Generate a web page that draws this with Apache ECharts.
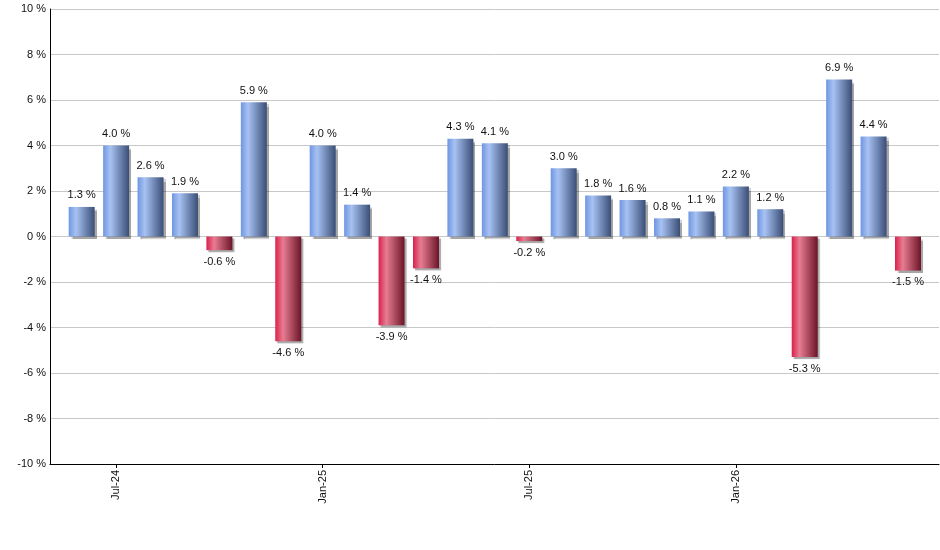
<!DOCTYPE html>
<html>
<head>
<meta charset="utf-8">
<script src="https://cdn.jsdelivr.net/npm/echarts@6/dist/echarts.min.js"></script>
<style>
  html, body { margin: 0; padding: 0; background: #fff; }
  #chart { width: 940px; height: 550px; }
</style>
</head>
<body>
<div id="chart"></div>
<script>
// monthly returns, Jun-24 .. Jun-26
const months = [
  'Jun-24', 'Jul-24', 'Aug-24', 'Sep-24', 'Oct-24', 'Nov-24', 'Dec-24',
  'Jan-25', 'Feb-25', 'Mar-25', 'Apr-25', 'May-25', 'Jun-25',
  'Jul-25', 'Aug-25', 'Sep-25', 'Oct-25', 'Nov-25', 'Dec-25',
  'Jan-26', 'Feb-26', 'Mar-26', 'Apr-26', 'May-26', 'Jun-26'
]
const values = [
  1.3, 4.0, 2.6, 1.9, -0.6, 5.9, -4.6,
  4.0, 1.4, -3.9, -1.4, 4.3, 4.1,
  -0.2, 3.0, 1.8, 1.6, 0.8, 1.1,
  2.2, 1.2, -5.3, 6.9, 4.4, -1.5
]
const labelMonths = ['Jul-24', 'Jan-25', 'Jul-25', 'Jan-26']
const yTicks = [-10, -8, -6, -4, -2, 0, 2, 4, 6, 8, 10]

const tickIdx = labelMonths.map(m => months.indexOf(m))

const blueFill = new echarts.graphic.LinearGradient(0, 0, 1, 0, [
  { offset: 0, color: '#6f96e2' },
  { offset: 0.28, color: '#a7c2f3' },
  { offset: 1, color: '#3a4e76' }
])
const redFill = new echarts.graphic.LinearGradient(0, 0, 1, 0, [
  { offset: 0, color: '#d9214b' },
  { offset: 0.3, color: '#e77d92' },
  { offset: 1, color: '#6c1428' }
])

const barData = values.map((v, i) => ({
  value: [i, v],
  itemStyle: { color: v >= 0 ? blueFill : redFill },
  label: { position: v >= 0 ? 'top' : 'bottom' }
}))

const chart = echarts.init(document.getElementById('chart'))
chart.setOption({
  animation: false,
  grid: { left: 50, right: 1, top: 9, bottom: 86 },
  xAxis: {
    type: 'value',
    min: -0.92,
    max: 24.9,
    splitLine: { show: false },
    axisLine: { show: true, onZero: false, lineStyle: { color: '#000', width: 1 } },
    axisTick: { show: true, customValues: tickIdx, length: 4, lineStyle: { color: '#000' } },
    axisLabel: {
      customValues: tickIdx,
      rotate: 90,
      color: '#111',
      fontSize: 11,
      fontFamily: 'Liberation Sans, Arial, sans-serif',
      margin: 6,
      formatter: v => months[Math.round(v)]
    }
  },
  yAxis: {
    type: 'value',
    min: yTicks[0],
    max: yTicks[yTicks.length - 1],
    interval: 2,
    axisLine: { show: true, onZero: false, lineStyle: { color: '#000', width: 1 } },
    axisTick: { show: false },
    splitLine: { lineStyle: { color: '#c8c8c8', width: 1 } },
    axisLabel: {
      color: '#111',
      fontSize: 11,
      fontFamily: 'Liberation Sans, Arial, sans-serif',
      margin: 4,
      formatter: v => v + ' %'
    }
  },
  series: [{
    type: 'bar',
    barWidth: 26,
    data: barData,
    itemStyle: {
      shadowColor: 'rgba(0,0,0,0.35)',
      shadowOffsetX: 2,
      shadowOffsetY: 2,
      shadowBlur: 1
    },
    label: {
      show: true,
      color: '#111',
      fontSize: 11,
      fontFamily: 'Liberation Sans, Arial, sans-serif',
      distance: 6,
      formatter: p => p.value[1].toFixed(1) + ' %'
    }
  }]
})
</script>
</body>
</html>
